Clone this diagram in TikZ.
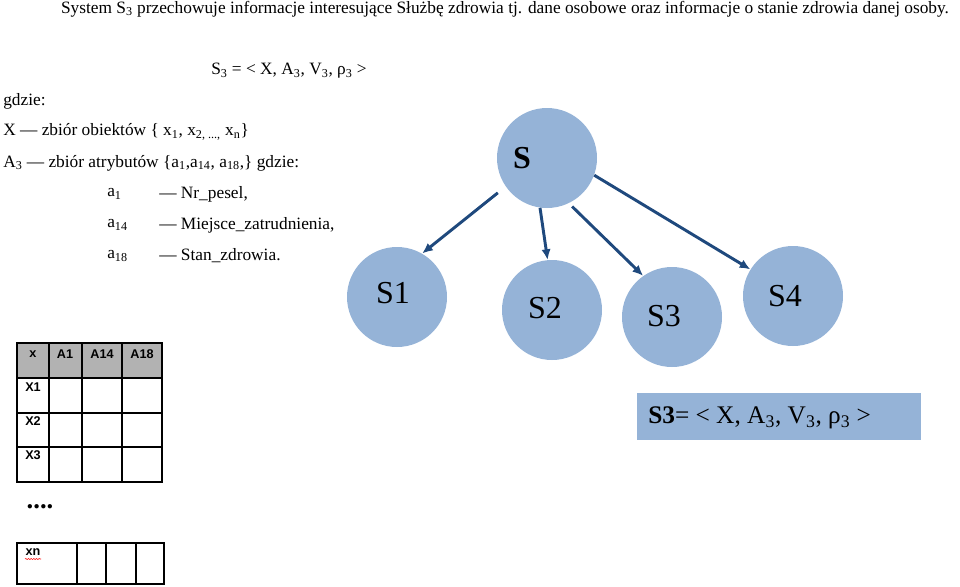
\documentclass[tikz,border=0pt]{standalone}
\usepackage{fontspec}
\setmainfont{Liberation Serif}
\newfontfamily\arialf{Liberation Sans}
\usetikzlibrary{arrows.meta,decorations.pathmorphing}
\definecolor{cfill}{HTML}{95B3D7}
\definecolor{carrow}{HTML}{1F497D}
\begin{document}
\begin{tikzpicture}[x=0.75pt,y=-0.75pt,
  circ/.style={circle,fill=cfill,minimum size=100*0.75pt,inner sep=0},
  lab/.style={font=\fontsize{22}{24}\selectfont,inner sep=0},
  arr/.style={carrow,line width=2.2pt,-{Latex[length=8pt,width=7pt]}},
  txt/.style={anchor=west,inner sep=0,font=\fontsize{13}{15}\selectfont},
  cell/.style={draw,line width=0.8pt},
  th/.style={font=\arialf\bfseries\fontsize{9.5}{10}\selectfont,inner sep=0}]
\useasboundingbox (0,0) rectangle (960,586);
\node[anchor=north,inner sep=0,font=\fontsize{13}{15}\selectfont] (title) at (505,1) {System S\textsubscript{3} przechowuje informacje interesujące Służbę zdrowia tj. dane osobowe oraz informacje o stanie zdrowia danej osoby.};
\node[txt] (def) at (211,71) {S\textsubscript{3} = < X, A\textsubscript{3}, V\textsubscript{3}, ρ\textsubscript{3} >};
\node[txt] (g) at (3,101) {gdzie:};
\node[txt] (x) at (3,132) {X — zbiór obiektów \{ x\textsubscript{1}, x\textsubscript{2, ...,} x\textsubscript{n}\}};
\node[txt] (a) at (3,163) {A\textsubscript{3} — zbiór atrybutów \{a\textsubscript{1},a\textsubscript{14}, a\textsubscript{18},\} gdzie:};
\node[txt] (a1) at (107,194) {a\textsubscript{1}};
\node[txt] (a14) at (107,225) {a\textsubscript{14}};
\node[txt] (a18) at (107,256) {a\textsubscript{18}};
\node[txt] (d1) at (159,194) {— Nr\_pesel,};
\node[txt] (d14) at (159,225) {— Miejsce\_zatrudnienia,};
\node[txt] (d18) at (159,256) {— Stan\_zdrowia.};
% circles
\node[circ] (S) at (547,158) {};
\node[circ] (S1) at (397,297) {};
\node[circ] (S2) at (552,310) {};
\node[circ] (S3) at (672,317) {};
\node[circ] (S4) at (793,296) {};
\node[lab,font=\bfseries\fontsize{24}{26}\selectfont] (tS) at (522,158) {S};
\node[lab,font=\fontsize{24}{26}\selectfont] (tS1) at (393,293) {S1};
\node[lab,font=\fontsize{24}{26}\selectfont] (tS2) at (545,308) {S2};
\node[lab,font=\fontsize{24}{26}\selectfont] (tS3) at (664,316) {S3};
\node[lab,font=\fontsize{24}{26}\selectfont] (tS4) at (785,296) {S4};
\draw[arr] (S.{215}) ++(-8,6) -- (S1.{60});
\draw[arr] (S.{262}) -- (S2.{95});
\draw[arr] (S.{300}) ++(0,5) -- (S3.{125});
\draw[arr] (S.{340}) -- (S4.{148});
% box
\node[fill=cfill,minimum width=284*0.75pt,minimum height=47*0.75pt,anchor=north west,inner sep=0] (box) at (637,393) {};
\node[lab,anchor=west,font=\fontsize{19}{21}\selectfont] (boxt) at (648,418) {\textbf{S3}= < X, A\textsubscript{3}, V\textsubscript{3}, ρ\textsubscript{3} >};
% table
\fill[gray!60] (17,343) rectangle (162,378);
\foreach \xa/\xb in {17/49,49/82,82/122,122/162}
  \foreach \ya/\yb in {343/378,378/413,413/447,447/482}
    \draw[cell] (\xa,\ya) rectangle (\xb,\yb);
\node[th] (h0) at (33,354) {x};
\node[th] (h1) at (65,354) {A1};
\node[th] (h2) at (102,354) {A14};
\node[th] (h3) at (142,354) {A18};
\node[th] (r1) at (33,387) {X1};
\node[th] (r2) at (33,421) {X2};
\node[th] (r3) at (33,455) {X3};
\node[inner sep=0,font=\bfseries\fontsize{20}{20}\selectfont] (dots) at (40,507) {....};
\foreach \xa/\xb in {17/77,77/106,106/136,136/164}
  \draw[cell] (\xa,543) rectangle (\xb,584);
\node[th] (rn) at (33,552) {xn};
\draw[red,decorate,decoration={snake,amplitude=0.4pt,segment length=2pt}] (25,559) -- (41,559);
\end{tikzpicture}
\end{document}
